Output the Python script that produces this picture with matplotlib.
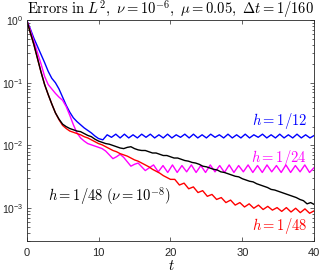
import numpy as np
import matplotlib
matplotlib.use("Agg")
import matplotlib.pyplot as plt
from matplotlib.ticker import LogLocator, NullFormatter

plt.rcParams["font.family"] = ["Liberation Sans", "DejaVu Sans"]
plt.rcParams["mathtext.fontset"] = "custom"
plt.rcParams["mathtext.rm"] = "Liberation Sans"
plt.rcParams["mathtext.it"] = "Liberation Sans:italic"
plt.rcParams["mathtext.bf"] = "Liberation Sans:bold"

# ---- data (log10 of L2 error) ----
# h = 1/12 (blue)
t_blue_a = np.arange(0, 10.01, 0.5)
blue_a = [0, -0.14, -0.29, -0.42, -0.55, -0.68, -0.82, -0.93, -1.00, -1.10, -1.23,
          -1.36, -1.47, -1.56, -1.62, -1.67, -1.72, -1.76, -1.80, -1.85, -1.89]
t_blue_b = np.linspace(10.6, 40.0, 50)
blue_b = [-1.91, -1.83, -1.87, -1.82, -1.88, -1.82, -1.88, -1.83, -1.88, -1.82,
          -1.87, -1.82, -1.88, -1.83, -1.88, -1.82, -1.88, -1.83, -1.87, -1.82,
          -1.88, -1.82, -1.88, -1.83, -1.88, -1.82, -1.87, -1.83, -1.88, -1.82,
          -1.88, -1.83, -1.88, -1.82, -1.88, -1.83, -1.87, -1.82, -1.88, -1.83,
          -1.88, -1.82, -1.88, -1.83, -1.88, -1.82, -1.88, -1.83, -1.88, -1.84]

# h = 1/24 (magenta)
t_mag_a = np.arange(0, 17.01, 0.5)
mag_a = [0, -0.16, -0.34, -0.52, -0.70, -0.90, -1.03, -1.10, -1.17, -1.23, -1.28,
         -1.38, -1.52, -1.67, -1.80, -1.88, -1.93, -1.97, -1.99, -2.01, -2.03,
         -2.05, -2.09, -2.15, -2.21, -2.18, -2.14, -2.19, -2.26, -2.33, -2.30,
         -2.28, -2.34, -2.40, -2.36]
t_mag_b = np.linspace(17.65, 40.0, 35)
mag_b = [-2.31, -2.42, -2.32, -2.43, -2.31, -2.43, -2.32, -2.42, -2.31, -2.43,
         -2.32, -2.43, -2.31, -2.42, -2.32, -2.43, -2.31, -2.43, -2.32, -2.42,
         -2.31, -2.43, -2.32, -2.43, -2.31, -2.42, -2.32, -2.43, -2.31, -2.43,
         -2.32, -2.42, -2.31, -2.43, -2.35]

# h = 1/48 (red)
t_red_a = np.arange(0, 20.01, 0.5)
red_a = [0, -0.20, -0.39, -0.61, -0.83, -1.03, -1.19, -1.34, -1.48, -1.59, -1.68,
         -1.73, -1.77, -1.79, -1.81, -1.83, -1.86, -1.88, -1.91, -1.94, -1.97,
         -1.99, -2.02, -2.05, -2.08, -2.10, -2.13, -2.15, -2.17, -2.20, -2.23,
         -2.25, -2.28, -2.31, -2.34, -2.38, -2.41, -2.44, -2.48, -2.51, -2.54]
t_red_b = np.linspace(20.6, 40.0, 31)
red_b = [-2.54, -2.63, -2.60, -2.69, -2.66, -2.75, -2.72, -2.81, -2.78, -2.86,
         -2.83, -2.91, -2.87, -2.95, -2.91, -2.98, -2.93, -3.00, -2.95, -3.02,
         -2.97, -3.03, -2.99, -3.05, -2.99, -3.06, -3.00, -3.07, -3.01, -3.08,
         -3.04]

# h = 1/48, nu = 1e-8 (black)
t_black = np.arange(0, 40.01, 0.5)
black = [0, -0.20, -0.39, -0.61, -0.83, -1.03, -1.19, -1.34, -1.48, -1.58, -1.66,
         -1.70, -1.73, -1.75, -1.77, -1.78, -1.81, -1.84, -1.86, -1.90, -1.93,
         -1.95, -1.97, -1.98, -2.00, -2.02, -2.04, -2.05, -2.03, -2.02, -2.05,
         -2.07, -2.08, -2.08, -2.10, -2.12, -2.12, -2.14, -2.16, -2.16, -2.18,
         -2.20, -2.20, -2.22, -2.24, -2.25, -2.27, -2.28, -2.30, -2.33, -2.34,
         -2.36, -2.38, -2.39, -2.42, -2.43, -2.45, -2.47, -2.49, -2.50, -2.53,
         -2.55, -2.57, -2.58, -2.61, -2.63, -2.65, -2.67, -2.70, -2.71, -2.73,
         -2.75, -2.77, -2.79, -2.81, -2.83, -2.86, -2.88, -2.93, -2.91, -2.94]

labels = [r"$h=1/12$", r"$h=1/24$", r"$h=1/48$", r"$h=1/48\ (\nu=10^{-8})$"]
colors = ["#0000ff", "#ff00ff", "#ff0000", "#000000"]
xticks = [0, 10, 20, 30, 40]

series = [
    (np.concatenate([t_blue_a, t_blue_b]), 10.0 ** np.array(blue_a + blue_b)),
    (np.concatenate([t_mag_a, t_mag_b]), 10.0 ** np.array(mag_a + mag_b)),
    (np.concatenate([t_red_a, t_red_b]), 10.0 ** np.array(red_a + red_b)),
    (t_black, 10.0 ** np.array(black)),
]

fig = plt.figure(figsize=(3.21, 2.73), dpi=100)
ax = fig.add_axes([0.083, 0.117, 0.896, 0.81])

for (t, y), c in zip(series, colors):
    ax.plot(t, y, color=c, lw=1.0)

ax.set_yscale("log")
ax.set_xlim(0, 40)
ax.set_ylim(3e-4, 1)
ax.set_xticks(xticks)
ax.yaxis.set_major_locator(LogLocator(base=10, numticks=10))
ax.yaxis.set_minor_locator(LogLocator(base=10, subs=np.arange(2, 10), numticks=20))
ax.yaxis.set_minor_formatter(NullFormatter())

gray = "0.15"
for s in ax.spines.values():
    s.set_color(gray)
    s.set_linewidth(0.6)
ax.tick_params(which="both", direction="in", top=True, right=True,
               colors=gray, labelsize=8, width=0.5)
ax.tick_params(which="major", length=3)
ax.tick_params(which="minor", length=1.8)
ax.tick_params(axis="x", pad=5)
ax.tick_params(axis="y", pad=2.5, labelsize=7.5)

fs = 10.5
kw = dict(transform=ax.transAxes, fontsize=fs, math_fontfamily="cm")
ax.text(0.975, 0.543, labels[0], color=colors[0], ha="right", va="center", **kw)
ax.text(0.975, 0.376, labels[1], color=colors[1], ha="right", va="center", **kw)
ax.text(0.975, 0.068, labels[2], color=colors[2], ha="right", va="center", **kw)
ax.text(0.074, 0.204, labels[3], color=colors[3], ha="left", va="center", **kw)

fig.text(0.531, 0.965,
         r"$\mathrm{Errors\ in}\ L^2,\ \nu=10^{-6},\ \mu=0.05,\ \Delta t=1/160$",
         ha="center", va="center", fontsize=10.5, math_fontfamily="cm")
fig.text(0.533, 0.024, r"$t$", ha="center", va="center", fontsize=10.5,
         math_fontfamily="cm")

fig.savefig("out.png", dpi=100)
